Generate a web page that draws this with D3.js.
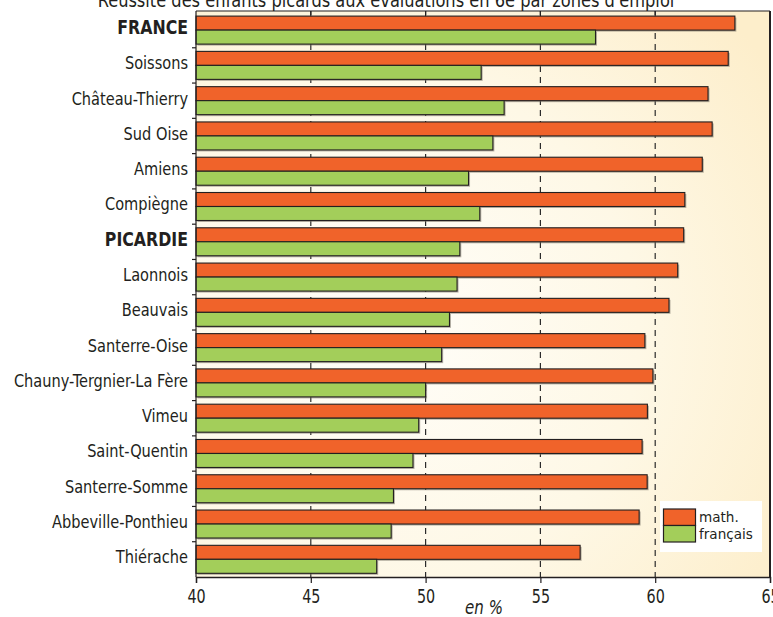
<!DOCTYPE html>
<html><head><meta charset="utf-8">
<script src="https://cdn.jsdelivr.net/npm/d3@7/dist/d3.min.js"></script>
<style>
html,body{margin:0;padding:0;background:#fff;}
svg{display:block;}
text{font-family:"Liberation Sans Narrow","DejaVu Sans Condensed","Roboto",sans-serif;fill:#231f20;}
</style></head>
<body>
<svg id="chart" width="773" height="617"></svg>
<script>
const title = "Réussite des enfants picards aux évaluations en 6e par zones d'emploi";
const categories = ["FRANCE","Soissons","Château-Thierry","Sud Oise","Amiens","Compiègne","PICARDIE","Laonnois","Beauvais","Santerre-Oise","Chauny-Tergnier-La Fère","Vimeu","Saint-Quentin","Santerre-Somme","Abbeville-Ponthieu","Thiérache"];
const boldCategories = ["FRANCE","PICARDIE"];
const mathValues = [63.47,63.18,62.3,62.48,62.05,61.29,61.24,60.98,60.6,59.55,59.9,59.66,59.43,59.65,59.3,56.73];
const francaisValues = [57.4,52.42,53.42,52.93,51.87,52.36,51.49,51.37,51.04,50.7,50.0,49.7,49.45,48.6,48.5,47.87];
const seriesNames = ["math.","français"];
const seriesColors = ["#f0632a","#a3ce5a"];
const xTicks = [40,45,50,55,60,65];
const gridTicks = [45,50,55,60];
const xDomain = [40,65];
const axisLabel = "en %";

const svg = d3.select("#chart");
const L = 196, R = 770, T = 11, B = 577;
const SX = 0.9; // horizontal condensing of the text
const x = d3.scaleLinear().domain(xDomain).range([L, R]);
const y = d3.scaleBand().domain(categories).range([12.5, B]).padding(0);
const sub = d3.scaleBand().domain(seriesNames).range([3.6, 31.6]).padding(0);

// background gradient
const defs = svg.append("defs");
const rg = defs.append("radialGradient").attr("id","bg").attr("gradientUnits","userSpaceOnUse")
  .attr("cx",380).attr("cy",330).attr("r",470);
rg.append("stop").attr("offset","0").attr("stop-color","#fffefa");
rg.append("stop").attr("offset","0.55").attr("stop-color","#fef8e6");
rg.append("stop").attr("offset","1").attr("stop-color","#fdeecb");
svg.append("rect").attr("x",L).attr("y",T).attr("width",R-L).attr("height",B-T).attr("fill","url(#bg)");

// gridlines
svg.append("g").selectAll("line").data(gridTicks).join("line")
  .attr("x1",d=>x(d)).attr("x2",d=>x(d)).attr("y1",T).attr("y2",B)
  .attr("stroke","#2b2b2b").attr("stroke-width",1.2).attr("stroke-dasharray","6,5");

// bars
const rows = categories.map((c,i)=>({c, vals:[mathValues[i], francaisValues[i]]}));
const gBars = svg.append("g");
rows.forEach(r=>{
  r.vals.forEach((v,j)=>{
    const yy = y(r.c) + sub(seriesNames[j]);
    gBars.append("rect").attr("x",x(xDomain[0])+1.5).attr("y",yy+1.5)
      .attr("width",x(v)-x(xDomain[0])).attr("height",sub.bandwidth())
      .attr("fill","#7a7468").attr("opacity",0.55);
  });
});
rows.forEach(r=>{
  r.vals.forEach((v,j)=>{
    const yy = y(r.c) + sub(seriesNames[j]);
    gBars.append("rect").attr("x",x(xDomain[0])).attr("y",yy)
      .attr("width",x(v)-x(xDomain[0])).attr("height",sub.bandwidth())
      .attr("fill",seriesColors[j]).attr("stroke","#231f20").attr("stroke-width",1.1);
  });
});

// frame
svg.append("line").attr("x1",L).attr("x2",R).attr("y1",T).attr("y2",T).attr("stroke","#231f20").attr("stroke-width",1.2);
svg.append("line").attr("x1",R).attr("x2",R).attr("y1",T).attr("y2",B).attr("stroke","#231f20").attr("stroke-width",2);
svg.append("line").attr("x1",L).attr("x2",L).attr("y1",T).attr("y2",B).attr("stroke","#231f20").attr("stroke-width",1.2);
// top ticks
svg.append("g").selectAll("line").data(gridTicks).join("line")
  .attr("x1",d=>x(d)).attr("x2",d=>x(d)).attr("y1",T).attr("y2",T+4)
  .attr("stroke","#231f20").attr("stroke-width",1.2);

// bottom axis
const xAxis = d3.axisBottom(x).tickValues(xTicks).tickSize(6).tickPadding(7).tickFormat(d3.format("d"));
const gx = svg.append("g").attr("transform",`translate(0,${B})`).call(xAxis);
gx.select(".domain").attr("stroke","#231f20").attr("stroke-width",1.4);
gx.selectAll(".tick line").attr("stroke","#231f20").attr("stroke-width",1.2);
gx.selectAll(".tick text").attr("font-size",19).attr("fill","#231f20")
  .attr("transform",`scale(0.84,1)`)
  .attr("font-family",'"Liberation Sans Narrow","DejaVu Sans Condensed",sans-serif');

// left ticks at band boundaries
const bounds = categories.map(c=>y(c)).concat([y(categories[categories.length-1])+y.bandwidth()]);
svg.append("g").selectAll("line").data(bounds.slice(1,-1)).join("line")
  .attr("x1",L-4).attr("x2",L).attr("y1",d=>d).attr("y2",d=>d)
  .attr("stroke","#231f20").attr("stroke-width",1.2);

// category labels
svg.append("g").selectAll("text").data(categories).join("text")
  .attr("transform",d=>`translate(188,${y(d)+21.5}) scale(${SX},1)`)
  .attr("text-anchor","end")
  .attr("font-size",d=>boldCategories.includes(d)?19.5:18)
  .attr("font-weight",d=>boldCategories.includes(d)?"bold":"normal")
  .text(d=>d);

// title
svg.append("text").attr("transform",`translate(386,7) scale(0.95,1)`).attr("text-anchor","middle").attr("font-size",19).text(title);

// axis label
svg.append("text").attr("transform",`translate(484,614) scale(0.88,1)`).attr("text-anchor","middle").attr("font-size",19).attr("font-style","italic").text(axisLabel);

// legend
const lg = svg.append("g");
lg.append("rect").attr("x",660).attr("y",501).attr("width",102).attr("height",51).attr("fill","#ffffff");
seriesNames.forEach((s,j)=>{
  lg.append("rect").attr("x",663.5).attr("y",509+j*16.5).attr("width",32).attr("height",16.5)
    .attr("fill",seriesColors[j]).attr("stroke","#231f20").attr("stroke-width",1.2);
  lg.append("text").attr("transform",`translate(699,${522+j*16.5}) scale(1.04,1)`).attr("font-size",14.5).text(s);
});
</script>
</body></html>
